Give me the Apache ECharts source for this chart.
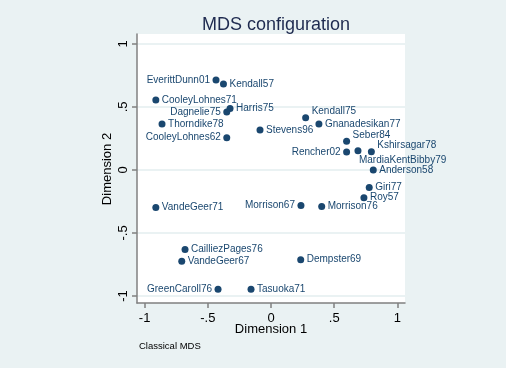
<!DOCTYPE html>
<html><head><meta charset="utf-8">
<script src="https://cdn.jsdelivr.net/npm/echarts@6/dist/echarts.min.js"></script>
<style>html,body{margin:0;padding:0;background:#eaf2f3;}#c{width:506px;height:368px;}</style>
</head><body><div id="c"></div>
<script>
const names = ["EverittDunn01","Kendall57","CooleyLohnes71","Harris75","Dagnelie75","Thorndike78","CooleyLohnes62","Stevens96","Kendall75","Gnanadesikan77","Seber84","Rencher02","MardiaKentBibby79","Kshirsagar78","Anderson58","Giri77","Roy57","VandeGeer71","Morrison67","Morrison76","CailliezPages76","VandeGeer67","Dempster69","GreenCaroll76","Tasuoka71"];
const dim1 = [-0.435,-0.376,-0.911,-0.324,-0.350,-0.862,-0.350,-0.087,0.274,0.379,0.598,0.598,0.688,0.794,0.809,0.777,0.735,-0.911,0.237,0.401,-0.680,-0.706,0.235,-0.419,-0.158];
const dim2 = [0.714,0.683,0.556,0.487,0.460,0.365,0.256,0.317,0.415,0.365,0.227,0.143,0.153,0.145,0.000,-0.140,-0.220,-0.299,-0.283,-0.291,-0.632,-0.725,-0.712,-0.947,-0.947];
const xTicks = [-1,-0.5,0,0.5,1];
const yTicks = [-1,-0.5,0,0.5,1];
const xTitle = 'Dimension 1';
const yTitle = 'Dimension 2';
// marker label clock positions (Stata mlabvposition)
const labelClock = {EverittDunn01:9,Dagnelie75:9,CooleyLohnes62:9,Rencher02:9,Morrison67:9,GreenCaroll76:9,Kendall75:2,Seber84:2,Kshirsagar78:2,MardiaKentBibby79:4};

const navy = '#1a476f';
function fmt(v){ let s = String(Math.round(v*100)/100); return s.replace(/^(-?)0\./,'$1.'); }
function clockOf(i){ return labelClock[names[i]] || 3; }
const data = names.map((n,i)=>({name:n, value:[dim1[i],dim2[i]],
  label:{position: clockOf(i)===9 ? 'left' : 'right', distance: 2.5}}));

const chart = echarts.init(document.getElementById('c'));
chart.setOption({
  backgroundColor:'#eaf2f3',
  animation:false,
  title:{text:'MDS configuration', left:271, textAlign:'center', top:11,
    textStyle:{fontFamily:'Liberation Sans', fontSize:18, fontWeight:'normal', color:'#1e2a4f'}},
  grid:{left:137, right:101, top:34, bottom:65, show:true, backgroundColor:'#ffffff', borderWidth:0},
  xAxis:{type:'value', min:-1.06, max:1.06,
    axisLine:{show:true, onZero:false, lineStyle:{color:'#808080', width:1.5}},
    axisTick:{show:true, length:5, lineStyle:{color:'#808080', width:1.5}, customValues:xTicks},
    axisLabel:{fontFamily:'Liberation Sans', fontSize:13, color:'#000', margin:9, customValues:xTicks, formatter:fmt},
    splitLine:{show:false}},
  yAxis:{type:'value', min:-1.056, max:1.079,
    axisLine:{show:true, onZero:false, lineStyle:{color:'#808080', width:1.5}},
    axisTick:{show:true, length:5, lineStyle:{color:'#808080', width:1.5}, customValues:yTicks},
    axisLabel:{fontFamily:'Liberation Sans', fontSize:13, color:'#000', margin:7, rotate:90, customValues:yTicks, formatter:fmt},
    splitLine:{show:false}},
  graphic:[
    {type:'text', x:271, y:329, style:{text:xTitle, fontFamily:'Liberation Sans', fontSize:13, fill:'#000', align:'center', verticalAlign:'middle'}},
    {type:'text', x:107, y:169, rotation:Math.PI/2, style:{text:yTitle, fontFamily:'Liberation Sans', fontSize:13, fill:'#000', align:'center', verticalAlign:'middle'}},
    {type:'text', left:139, top:341, style:{text:'Classical MDS', fontFamily:'Liberation Sans', fontSize:9.5, fill:'#000'}}
  ],
  series:[{type:'scatter', symbolSize:7, itemStyle:{color:navy, opacity:1},
    label:{show:true, formatter:'{b}', fontFamily:'Liberation Sans', fontSize:10, color:navy},
    labelLayout:function(p){
      const c = clockOf(p.dataIndex);
      if (c===2) return {dy:-6, hideOverlap:false};
      if (c===4) return {dx:-5, dy:10, hideOverlap:false};
      return {hideOverlap:false};
    },
    data:data,
    markLine:{silent:true, symbol:'none', label:{show:false}, z:0,
      lineStyle:{color:'#eaf2f3', width:2, type:'solid'},
      data:yTicks.map(v=>({yAxis:v}))}
  }]
});
</script></body></html>
